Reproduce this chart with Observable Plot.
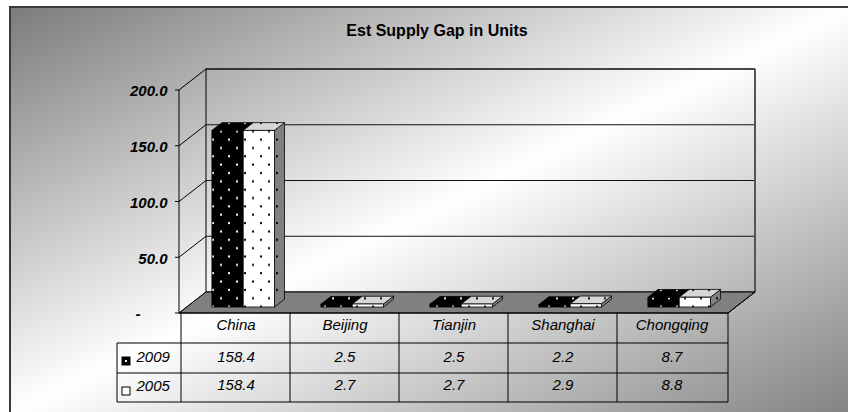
<!DOCTYPE html>
<html>
<head>
<meta charset="utf-8">
<script src="https://cdn.jsdelivr.net/npm/d3@7"></script>
<script src="https://cdn.jsdelivr.net/npm/@observablehq/plot@0.6"></script>
<style>
  html, body { margin: 0; padding: 0; background: #fff; }
  #wrap { position: relative; width: 848px; height: 412px; overflow: hidden; background: #fff;
          font-family: "Liberation Sans", Arial, sans-serif; }
  #bg { position: absolute; left: 9px; top: 6px; width: 839px; height: 406px;
        border-left: 2px solid #3a3a3a; border-top: 2px solid #3a3a3a;
        background: linear-gradient(to bottom right, #7c7c7c 0%, #ffffff 50%, #828282 100%); }
  #title { position: absolute; left: 0; top: 23px; width: 874px; text-align: center;
           font: bold 16px/16px "Liberation Sans", Arial, sans-serif; color: #000; }
  #chart { position: absolute; left: 0; top: 0; }
</style>
</head>
<body>
<div id="wrap">
  <div id="bg"></div>
  <div id="title">Est Supply Gap in Units</div>
  <div id="chart"></div>
</div>
<script>
// ---- data ----
const categories = ["China", "Beijing", "Tianjin", "Shanghai", "Chongqing"];
const seriesNames = ["2009", "2005"];
const values2009 = [158.4, 2.5, 2.5, 2.2, 8.7];
const values2005 = [158.4, 2.7, 2.7, 2.9, 8.8];
const yTicks = [0, 50, 100, 150, 200];

const rows = categories.flatMap((c, i) => [
  {category: c, series: seriesNames[0], value: values2009[i]},
  {category: c, series: seriesNames[1], value: values2005[i]}
]);

const FONT = '"Liberation Sans", Arial, sans-serif';

// 3-D box depth (pixels) and bar placement inside the depth
const DX = 27, DY = 21;
const barFront = 0.285, barDepth = 0.37, pairFrac = 0.574;

function scene(index, scales, values, dimensions) {
  const x = scales.x, y = scales.y;
  const bw = x.bandwidth();
  const {width, height, marginLeft, marginRight, marginTop, marginBottom} = dimensions;
  const x0 = marginLeft, x1 = width - marginRight;
  const yb = y(0), yt = y(200);
  const g = d3.create("svg:g");

  // patterns
  const defs = g.append("defs");
  function pat(id, base, dot) {
    const p = defs.append("pattern").attr("id", id).attr("patternUnits", "userSpaceOnUse")
      .attr("width", 16).attr("height", 16.7).attr("x", 0).attr("y", 0);
    p.append("rect").attr("width", 16).attr("height", 16.7).attr("fill", base);
    p.append("rect").attr("x", 4).attr("y", 5).attr("width", 2).attr("height", 2).attr("fill", dot);
    p.append("rect").attr("x", 12).attr("y", 13.35).attr("width", 2).attr("height", 2).attr("fill", dot);
  }
  pat("pBlack", "#000", "#fff");
  pat("pWhite", "#fff", "#000");
  pat("pTopW", "#d6d6d6", "#000");
  pat("pSide", "#808080", "#000");

  const line = (xa, ya, xb, yb2, stroke = "#000", sw = 1) =>
    g.append("line").attr("x1", xa).attr("y1", ya).attr("x2", xb).attr("y2", yb2)
      .attr("stroke", stroke).attr("stroke-width", sw);

  // back wall
  g.append("rect").attr("x", x0 + DX).attr("y", yt - DY).attr("width", x1 - x0).attr("height", yb - yt)
    .attr("fill", "none").attr("stroke", "#000").attr("stroke-width", 1);
  for (const v of yTicks) {
    const yy = y(v);
    if (v > 0) line(x0 + DX, yy - DY, x1 + DX, yy - DY, "#111", 1);
    line(x0, yy, x0 + DX, yy - DY, "#000", 1);      // left wall
    line(x0 - 4, yy, x0, yy, "#000", 1);            // tick
  }
  line(x1 + DX, yt - DY, x1 + DX, yb - DY, "#555", 2);

  // floor
  g.append("path")
    .attr("d", `M${x0},${yb}L${x1},${yb}L${x1 + DX},${yb - DY}L${x0 + DX},${yb - DY}Z`)
    .attr("fill", "#808080").attr("stroke", "#000").attr("stroke-width", 1);

  // front axis
  line(x0, yt, x0, yb, "#000", 1);

  // bars
  const w = bw * pairFrac / 2;
  const fx = DX * barFront, fy = DY * barFront;
  const ddx = DX * barDepth, ddy = DY * barDepth;
  for (const r of rows) {
    const si = seriesNames.indexOf(r.series);
    const bx = x(r.category) + (bw - 2 * w) / 2 + si * w + fx;
    const by0 = y(0) - fy;
    const by1 = y(r.value) - fy;
    const front = si === 0 ? "url(#pBlack)" : "url(#pWhite)";
    const top = si === 0 ? "url(#pBlack)" : "url(#pTopW)";
    // side
    g.append("path")
      .attr("d", `M${bx + w},${by1}L${bx + w + ddx},${by1 - ddy}L${bx + w + ddx},${by0 - ddy}L${bx + w},${by0}Z`)
      .attr("fill", si === 0 ? "url(#pBlack)" : "url(#pSide)").attr("stroke", "#000").attr("stroke-width", 0.8);
    // top
    g.append("path")
      .attr("d", `M${bx},${by1}L${bx + w},${by1}L${bx + w + ddx},${by1 - ddy}L${bx + ddx},${by1 - ddy}Z`)
      .attr("fill", top).attr("stroke", "#000").attr("stroke-width", 0.8);
    // front
    g.append("rect").attr("x", bx).attr("y", by1).attr("width", w).attr("height", by0 - by1)
      .attr("fill", front).attr("stroke", "#000").attr("stroke-width", 0.8);
  }

  // data table
  const rh = [30, 60, 89];
  const hx = x0 - 62;
  line(x0, yb, x1, yb, "#000", 1);
  line(hx, yb + rh[0], x1, yb + rh[0], "#000", 1);
  line(hx, yb + rh[1], x1, yb + rh[1], "#000", 1);
  line(hx, yb + rh[2], x1, yb + rh[2], "#000", 1);
  line(hx, yb + rh[0], hx, yb + rh[2], "#000", 1);
  for (const c of categories) line(x(c), yb, x(c), yb + rh[2], "#000", 1);
  line(x1, yb, x1, yb + rh[2], "#000", 1);
  line(x1, yb, x1 + DX, yb - DY, "#000", 1);

  // legend keys in the table
  g.append("rect").attr("x", hx + 5).attr("y", yb + 44).attr("width", 8).attr("height", 8)
    .attr("fill", "#000").attr("stroke", "#000");
  g.append("rect").attr("x", hx + 8).attr("y", yb + 47).attr("width", 2).attr("height", 2)
    .attr("fill", "#fff");
  g.append("rect").attr("x", hx + 5).attr("y", yb + 74).attr("width", 8).attr("height", 8)
    .attr("fill", "#fff").attr("stroke", "#000");
  return g.node();
}

const chart = Plot.plot({
  width: 848,
  height: 412,
  marginLeft: 179,
  marginRight: 120,
  marginTop: 90,
  marginBottom: 99,
  x: {type: "band", domain: categories, padding: 0, axis: null},
  y: {domain: [0, 200], axis: null},
  style: {background: "transparent", fontFamily: FONT, overflow: "visible"},
  marks: [
    scene,
    Plot.text(yTicks.filter(d => d !== 0), {
      y: d => d, text: d => d.toFixed(1), frameAnchor: "left", textAnchor: "end",
      dx: -12, dy: 1, fontSize: 15, fontWeight: "bold", fontStyle: "italic", fill: "#000"
    }),
    Plot.text(yTicks.filter(d => d === 0), {
      y: d => d, text: () => "-", frameAnchor: "left", textAnchor: "end",
      dx: -39, dy: 1, fontSize: 15, fontWeight: "bold", fontStyle: "italic", fill: "#000"
    }),
    Plot.text(categories, {
      x: d => d, text: d => d, frameAnchor: "bottom", dy: 16,
      fontSize: 15, fontStyle: "italic", fill: "#000"
    }),
    Plot.text(rows.filter(r => r.series === "2009"), {
      x: "category", text: r => r.value.toFixed(1), frameAnchor: "bottom", dy: 48,
      fontSize: 15, fontStyle: "italic", fill: "#000"
    }),
    Plot.text(rows.filter(r => r.series === "2005"), {
      x: "category", text: r => r.value.toFixed(1), frameAnchor: "bottom", dy: 76,
      fontSize: 15, fontStyle: "italic", fill: "#000"
    }),
    Plot.text([seriesNames[0]], {
      text: d => d, frameAnchor: "bottom-left", textAnchor: "start", dx: -43, dy: 48,
      fontSize: 15, fontStyle: "italic", fill: "#000"
    }),
    Plot.text([seriesNames[1]], {
      text: d => d, frameAnchor: "bottom-left", textAnchor: "start", dx: -43, dy: 77,
      fontSize: 15, fontStyle: "italic", fill: "#000"
    })
  ]
});
document.getElementById("chart").appendChild(chart);
</script>
</body>
</html>
